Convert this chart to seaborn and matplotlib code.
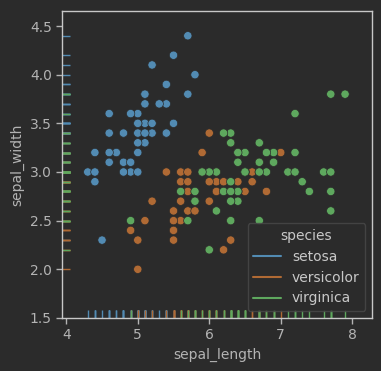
import matplotlib
matplotlib.use("Agg")
import matplotlib.pyplot as plt
import seaborn as sns
import pandas as pd

species_names = ["setosa", "versicolor", "virginica"]

setosa_length = [5.1,4.9,4.7,4.6,5.0,5.4,4.6,5.0,4.4,4.9,5.4,4.8,4.8,4.3,5.8,5.7,5.4,5.1,5.7,5.1,
                 5.4,5.1,4.6,5.1,4.8,5.0,5.0,5.2,5.2,4.7,4.8,5.4,5.2,5.5,4.9,5.0,5.5,4.9,4.4,5.1,
                 5.0,4.5,4.4,5.0,5.1,4.8,5.1,4.6,5.3,5.0]
setosa_width = [3.5,3.0,3.2,3.1,3.6,3.9,3.4,3.4,2.9,3.1,3.7,3.4,3.0,3.0,4.0,4.4,3.9,3.5,3.8,3.8,
                3.4,3.7,3.6,3.3,3.4,3.0,3.4,3.5,3.4,3.2,3.1,3.4,4.1,4.2,3.1,3.2,3.5,3.6,3.0,3.4,
                3.5,2.3,3.2,3.5,3.8,3.0,3.8,3.2,3.7,3.3]
versicolor_length = [7.0,6.4,6.9,5.5,6.5,5.7,6.3,4.9,6.6,5.2,5.0,5.9,6.0,6.1,5.6,6.7,5.6,5.8,6.2,5.6,
                     5.9,6.1,6.3,6.1,6.4,6.6,6.8,6.7,6.0,5.7,5.5,5.5,5.8,6.0,5.4,6.0,6.7,6.3,5.6,5.5,
                     5.5,6.1,5.8,5.0,5.6,5.7,5.7,6.2,5.1,5.7]
versicolor_width = [3.2,3.2,3.1,2.3,2.8,2.8,3.3,2.4,2.9,2.7,2.0,3.0,2.2,2.9,2.9,3.1,3.0,2.7,2.2,2.5,
                    3.2,2.8,2.5,2.8,2.9,3.0,2.8,3.0,2.9,2.6,2.4,2.4,2.7,2.7,3.0,3.4,3.1,2.3,3.0,2.5,
                    2.6,3.0,2.6,2.3,2.7,3.0,2.9,2.9,2.5,2.8]
virginica_length = [6.3,5.8,7.1,6.3,6.5,7.6,4.9,7.3,6.7,7.2,6.5,6.4,6.8,5.7,5.8,6.4,6.5,7.7,7.7,6.0,
                    6.9,5.6,7.7,6.3,6.7,7.2,6.2,6.1,6.4,7.2,7.4,7.9,6.4,6.3,6.1,7.7,6.3,6.4,6.0,6.9,
                    6.7,6.9,5.8,6.8,6.7,6.7,6.3,6.5,6.2,5.9]
virginica_width = [3.3,2.7,3.0,2.9,3.0,3.0,2.5,2.9,2.5,3.6,3.2,2.7,3.0,2.5,2.8,3.2,3.0,3.8,2.6,2.2,
                   3.2,2.8,2.8,2.7,3.3,3.2,2.8,3.0,2.8,3.0,2.8,3.8,2.8,2.8,2.6,3.0,3.4,3.1,3.0,3.1,
                   3.1,3.1,2.7,3.2,3.3,3.0,2.5,3.0,3.4,3.0]

lengths = [setosa_length, versicolor_length, virginica_length]
widths = [setosa_width, versicolor_width, virginica_width]

rows = []
for name, ls, ws in zip(species_names, lengths, widths):
    for l, w in zip(ls, ws):
        rows.append({"sepal_length": l, "sepal_width": w, "species": name})
df = pd.DataFrame(rows)

BG = "#2b2b2b"
FG = "#b4b4b4"
palette = {"setosa": "#528bb3", "versicolor": "#b06a34", "virginica": "#5ea85e"}

sns.set_theme(style="dark")
plt.rcParams.update({
    "figure.facecolor": BG,
    "axes.facecolor": BG,
    "axes.edgecolor": "#c8c8c8",
    "axes.labelcolor": FG,
    "xtick.color": FG,
    "ytick.color": FG,
    "text.color": "#c8c8c8",
    "xtick.bottom": True,
    "ytick.left": True,
    "font.size": 10,
    "axes.labelsize": 10,
    "xtick.labelsize": 10,
    "ytick.labelsize": 10,
})
plt.rcParams["font.family"] = ["DejaVu Sans"]

fig = plt.figure(figsize=(3.81, 3.71), dpi=100)
ax = fig.add_axes([0.1635, 0.143, 0.8135, 0.828])

sns.scatterplot(data=df, x="sepal_length", y="sepal_width", hue="species",
                palette=palette, s=36, edgecolor=BG, linewidth=0.5, legend=False, ax=ax)
sns.rugplot(data=df, x="sepal_length", y="sepal_width", hue="species",
            palette=palette, ax=ax)

ax.set_xlim(3.944, 8.28)
ax.set_ylim(1.5, 4.657)
ax.set_xticks([4, 5, 6, 7, 8])
ax.set_yticks([1.5, 2.0, 2.5, 3.0, 3.5, 4.0, 4.5])
for sp in ax.spines.values():
    sp.set_color("#c8c8c8")
    sp.set_linewidth(1.0)
ax.tick_params(length=4, width=1, color=FG)

leg = ax.get_legend()
sns.move_legend(ax, "lower right", title="species", frameon=True,
                facecolor=BG, edgecolor="#4a4a4a", labelcolor="#c8c8c8",
                fontsize=10, title_fontsize=10)
leg = ax.get_legend()
leg.get_title().set_color("#c8c8c8")

fig.savefig("out.png", dpi=100, facecolor=BG)
